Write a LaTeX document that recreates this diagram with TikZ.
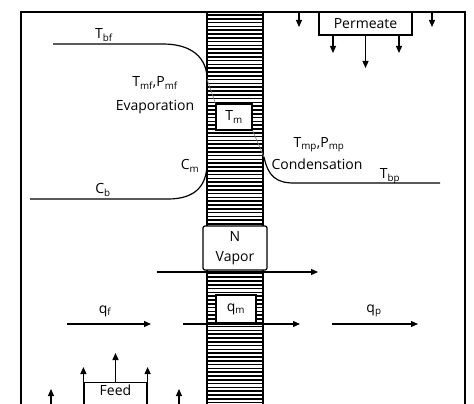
\documentclass[tikz,border=0pt]{standalone}
\usepackage{fontspec}
\setmainfont{Open Sans}
\usetikzlibrary{arrows.meta}
\begin{document}
\begin{tikzpicture}[x=1pt,y=-1pt,
  font=\fontsize{14}{16}\selectfont,
  ln/.style={line width=1.2pt},
  arr/.style={line width=1.2pt,-{Triangle[length=7pt,width=6pt]}},
  box/.style={draw,line width=1.2pt,fill=white,inner sep=0pt},
  lbl/.style={inner sep=0pt}]
\useasboundingbox (0,0) rectangle (474,404);
% outer frame
\coordinate (fbl) at (21,404);
\coordinate (ftl) at (21,12);
\coordinate (ftr) at (465,12);
\coordinate (fbr) at (465,404);
\draw[line width=1.5pt] (fbl) -- (ftl) -- (ftr) -- (fbr);
% membrane
\fill[white] (207,12) rectangle (263,404);
\foreach \y in {15,18.8,...,404} {\draw[line width=1.6pt] (207,\y) -- (263,\y);}
\draw[line width=1.2pt] (207,12) -- (207,404) (263,12) -- (263,404);
\draw[line width=2.2pt] (207,12) -- (263,12);
% feed-side curves
\coordinate (tbfs) at (53,44);
\coordinate (tbfe) at (207,79);
\draw[ln] (tbfs) -- (163,44) .. controls (192,44) and (207,58) .. (tbfe);
\coordinate (cbs) at (30,199);
\coordinate (cbe) at (207,163);
\draw[ln] (cbs) -- (168,199) .. controls (195,199) and (207,186) .. (cbe);
% permeate-side curve
\coordinate (tbps) at (264,157);
\coordinate (tbpe) at (440,183);
\draw[ln] (tbps) .. controls (268,176) and (276,183) .. (294,183) -- (tbpe);
% boxes in membrane
\node[box,minimum width=36pt,minimum height=26pt] (tm) at (234,117) {T\textsubscript{m}};
\draw[gray,line width=0.6pt] (tbfe) -- (tm.north west);
\draw[gray,line width=0.6pt] (tm.south east) -- (tbps);
\node[box,minimum width=40pt,minimum height=28pt] (qm) at (236,309) {q\textsubscript{m}};
\node[box,rounded corners=2pt,minimum width=64pt,minimum height=44pt] (nv) at (235,248) {};
\node[lbl] (n) at (235,237) {N};
\node[lbl] (vap) at (235,258) {Vapor};
% labels
\node[lbl] (tbf) at (104,35) {T\textsubscript{bf}};
\node[lbl] (tmf) at (155,83) {T\textsubscript{mf},P\textsubscript{mf}};
\node[lbl] (evap) at (155,107) {Evaporation};
\node[lbl] (cm) at (190,166) {C\textsubscript{m}};
\node[lbl] (cb) at (103,190) {C\textsubscript{b}};
\node[lbl] (tmp) at (319,145) {T\textsubscript{mp},P\textsubscript{mp}};
\node[lbl] (cond) at (317,164) {Condensation};
\node[lbl] (tbp) at (390,176) {T\textsubscript{bp}};
% vapor arrow
\coordinate (vs) at (157,272);
\coordinate (ve) at (318,272);
\draw[arr] (vs) -- (ve);
% heat arrows
\coordinate (qfs) at (67,324);
\coordinate (qfe) at (151,324);
\draw[arr] (qfs) -- (qfe);
\node[lbl] (qf) at (105,311) {q\textsubscript{f}};
\coordinate (qms) at (183,324);
\coordinate (qme) at (300,324);
\draw[arr] (qms) -- (qme);
\coordinate (qps) at (332,324);
\coordinate (qpe) at (418,324);
\draw[arr] (qps) -- (qpe);
\node[lbl] (qp) at (374,311) {q\textsubscript{p}};
% permeate box and arrows
\node[box,minimum width=93pt,minimum height=23pt] (perm) at (365.5,23.5) {Permeate};
\coordinate (p1) at (299,12);  \coordinate (p1e) at (299,27);
\coordinate (p5) at (432,12);  \coordinate (p5e) at (432,27);
\draw[arr] (p1) -- (p1e);
\draw[arr] (p5) -- (p5e);
\draw[arr] (perm.south west -| 333,0) -- (333,53);
\draw[arr] (perm.south) -- (365.5,68);
\draw[arr] (perm.south east -| 399,0) -- (399,53);
% feed box and arrows
\node[box,anchor=north,minimum width=63pt,text height=10pt,text depth=22pt,inner ysep=3pt] (feed) at (115.5,382) {Feed};
\draw[arr] (feed.north west) -- ++(0,-15);
\draw[arr] (feed.north east) -- ++(0,-15);
\draw[arr] (feed.north) -- ++(0,-29);
\coordinate (f1) at (51,404); \coordinate (f1e) at (51,389);
\coordinate (f2) at (179,404); \coordinate (f2e) at (179,389);
\draw[arr] (f1) -- (f1e);
\draw[arr] (f2) -- (f2e);
\end{tikzpicture}
\end{document}
